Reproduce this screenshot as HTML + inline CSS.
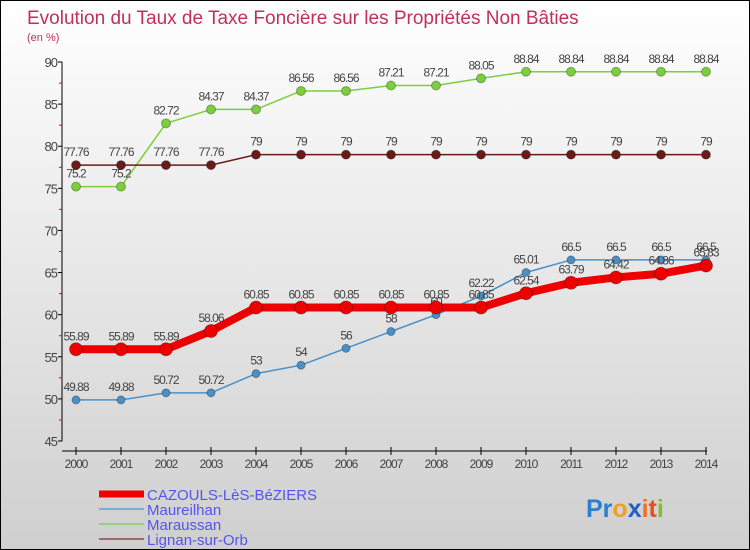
<!DOCTYPE html>
<html><head><meta charset="utf-8"><style>
body{margin:0;}
#wrap{width:750px;height:550px;position:relative;box-sizing:border-box;border:1px solid #000;background:linear-gradient(#ffffff,#cfcfcf);overflow:hidden;font-family:"Liberation Sans",sans-serif;}
</style></head><body>
<div id="wrap">
<svg id="chart" width="750" height="550" style="position:absolute;left:0;top:0;font-family:'Liberation Sans',sans-serif">
<text x="26" y="23" font-size="19" fill="#c0305a">Evolution du Taux de Taxe Foncière sur les Propriétés Non Bâties</text>
<text x="26" y="40" font-size="11" fill="#c0305a">(en %)</text>
<g id="axes"></g><g id="series"></g>
<g>
<line x1="98" y1="493" x2="143" y2="493" stroke="#e00" stroke-width="7"/>
<text x="146" y="499" font-size="15" fill="#5555ee">CAZOULS-LèS-BéZIERS</text>
<line x1="98" y1="508" x2="143" y2="508" stroke="#7aaed6" stroke-width="2"/>
<text x="146" y="514" font-size="15" fill="#5555ee">Maureilhan</text>
<line x1="98" y1="523" x2="143" y2="523" stroke="#90d080" stroke-width="2"/>
<text x="146" y="529" font-size="15" fill="#5555ee">Maraussan</text>
<line x1="98" y1="538" x2="143" y2="538" stroke="#9a6a6a" stroke-width="2"/>
<text x="146" y="544" font-size="15" fill="#5555ee">Lignan-sur-Orb</text>
</g>
<text x="585" y="516" font-size="25" font-weight="bold"><tspan fill="#2a7fd0">Pr</tspan><tspan fill="#f0a020">o</tspan><tspan fill="#2060c0">x</tspan><tspan fill="#f07020">i</tspan><tspan fill="#e05020">t</tspan><tspan fill="#80c030">i</tspan></text>
</svg>
</div>
<script>
const years=[2000,2001,2002,2003,2004,2005,2006,2007,2008,2009,2010,2011,2012,2013,2014];
const yTicks=[45,50,55,60,65,70,75,80,85,90];
const cazouls=[55.89,55.89,55.89,58.06,60.85,60.85,60.85,60.85,60.85,60.85,62.54,63.79,64.42,64.86,65.83];
const maureilhan=[49.88,49.88,50.72,50.72,53,54,56,58,60,62.22,65.01,66.5,66.5,66.5,66.5];
const maraussan=[75.2,75.2,82.72,84.37,84.37,86.56,86.56,87.21,87.21,88.05,88.84,88.84,88.84,88.84,88.84];
const lignan=[77.76,77.76,77.76,77.76,79,79,79,79,79,79,79,79,79,79,79];
const NS="http://www.w3.org/2000/svg";
const xs=i=>75+i*45.0;
const ys=v=>440-(v-45)*(379/45);
function mk(tag,attrs,parent){const e=document.createElementNS(NS,tag);for(const k in attrs)e.setAttribute(k,attrs[k]);parent.appendChild(e);return e;}
const axes=document.getElementById('axes');
let e=mk('line',{x1:61,y1:ys(90),x2:61,y2:ys(45),stroke:'#000'},axes);


e=mk('line',{x1:61,y1:450,x2:706,y2:450,stroke:'#000'},axes);


yTicks.forEach((t,i)=>{
  mk('line',{x1:57,y1:ys(t),x2:61,y2:ys(t),stroke:'#000'},axes);
  if(i<yTicks.length-1)mk('line',{x1:58,y1:ys(t+2.5),x2:61,y2:ys(t+2.5),stroke:'#e00'},axes);
  const tx=mk('text',{x:56,y:ys(t)+5,'font-size':13,fill:'#444','text-anchor':'end','letter-spacing':'-1'},axes);
  tx.textContent=t;
  
  
});
years.forEach((y,i)=>{
  mk('line',{x1:xs(i),y1:446,x2:xs(i),y2:454,stroke:'#000'},axes);
  const tx=mk('text',{x:xs(i),y:467,'font-size':12,fill:'#444','text-anchor':'middle','letter-spacing':'-1'},axes);
  tx.textContent=y;
  
  
});
const sg=document.getElementById('series');
function series(vals,color,lw,r,name){
  const g=mk('g',{},sg);
  
  
  const pl=mk('polyline',{points:vals.map((v,i)=>xs(i)+','+ys(v)).join(' '),fill:'none',stroke:color,'stroke-width':lw,'stroke-linejoin':'round'},g);
  
  
  vals.forEach((v,i)=>{
    const c=mk('circle',{cx:xs(i),cy:ys(v),r:r,fill:color,stroke:'rgba(0,0,0,0.3)','stroke-width':1},g);
    
    
    const t=mk('text',{x:xs(i),y:ys(v)-9,'font-size':12,fill:'#444','text-anchor':'middle','letter-spacing':'-1'},g);
    t.textContent=v;
    
    
  });
}
series(maraussan,'#7ccf3c',1.5,4.5,'maraussan');
series(lignan,'#6b1a1a',1.5,4.5,'lignan');
series(maureilhan,'#4a90c8',1.5,4,'maureilhan');
series(cazouls,'#ee0000',8,6.5,'cazouls');
</script>
</body></html>
